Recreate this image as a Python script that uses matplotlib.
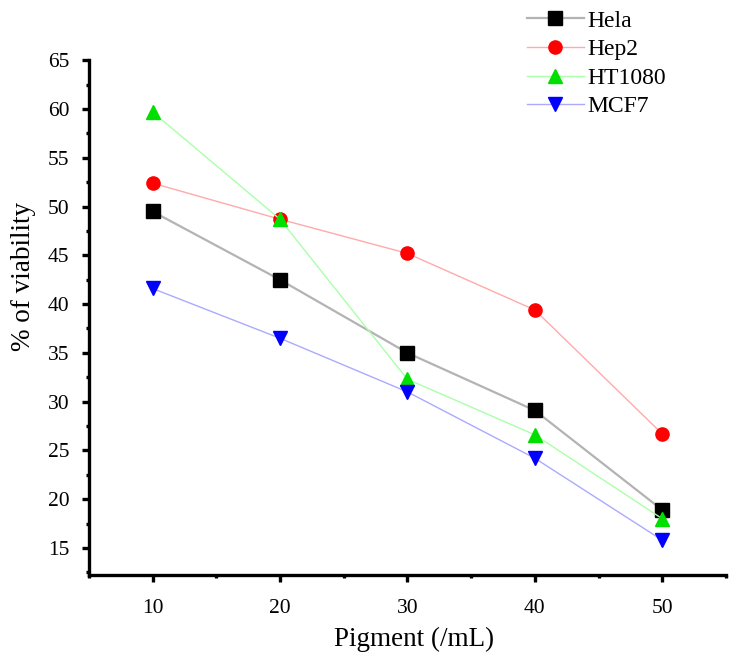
import matplotlib
matplotlib.use("Agg")
import matplotlib.pyplot as plt
from matplotlib.ticker import MultipleLocator

plt.rcParams["font.family"] = "serif"
plt.rcParams["font.serif"] = ["Liberation Serif", "DejaVu Serif"]

# pigment concentration
conc = [10, 20, 30, 40, 50]

# % of viability per cell line
hela = [49.5, 42.5, 35.0, 29.1, 18.9]
hep2 = [52.4, 48.7, 45.2, 39.4, 26.7]
ht1080 = [59.7, 48.7, 32.3, 26.6, 18.0]
mcf7 = [41.6, 36.5, 31.0, 24.2, 15.8]

series = [
    ("Hela", hela, "s", "black", "#b3b3b3", 1.6),
    ("Hep2", hep2, "o", "red", "#ffaaaa", 1.0),
    ("HT1080", ht1080, "^", "#00e000", "#aaffaa", 1.0),
    ("MCF7", mcf7, "v", "blue", "#aaaaff", 1.0),
]

fig = plt.figure(figsize=(7.34, 6.62), dpi=100)
ax = fig.add_axes([0.121, 0.131, 0.868, 0.778])

handles = []
for name, vals, mk, mcol, lcol, lw in series:
    h, = ax.plot(conc, vals, color=lcol, lw=lw, marker=mk, markersize=9.5,
                 markerfacecolor=mcol, markeredgecolor=mcol, label=name)
    handles.append(h)

ax.set_xlim(5, 55)
ax.set_ylim(12.2, 65)
ax.xaxis.set_major_locator(MultipleLocator(10))
ax.xaxis.set_minor_locator(MultipleLocator(5))
ax.yaxis.set_major_locator(MultipleLocator(5))
ax.yaxis.set_minor_locator(MultipleLocator(2.5))
ax.set_yticks(range(15, 66, 5))

for s in ["top", "right"]:
    ax.spines[s].set_visible(False)
for s in ["left", "bottom"]:
    ax.spines[s].set_linewidth(2.4)

ax.tick_params(which="major", direction="out", length=5, width=2.4,
               labelsize=15.5)
ax.tick_params(axis="y", which="major", pad=9)
ax.tick_params(axis="x", which="major", pad=12)
ax.tick_params(which="minor", direction="out", length=2.5, width=2.4)

ax.set_xlabel("Pigment (/mL)", fontsize=19.5, labelpad=6)
ax.set_ylabel("% of viability", fontsize=19.5)
ax.yaxis.set_label_coords(-0.083, 0.58)
ax.xaxis.set_label_coords(0.51, -0.1)

fig.legend(handles=handles, loc="upper left", bbox_to_anchor=(0.705, 0.999),
           frameon=False, fontsize=17, handlelength=2.4, handletextpad=0.15,
           labelspacing=0.3, borderaxespad=0)

fig.savefig("out.png", dpi=100)
